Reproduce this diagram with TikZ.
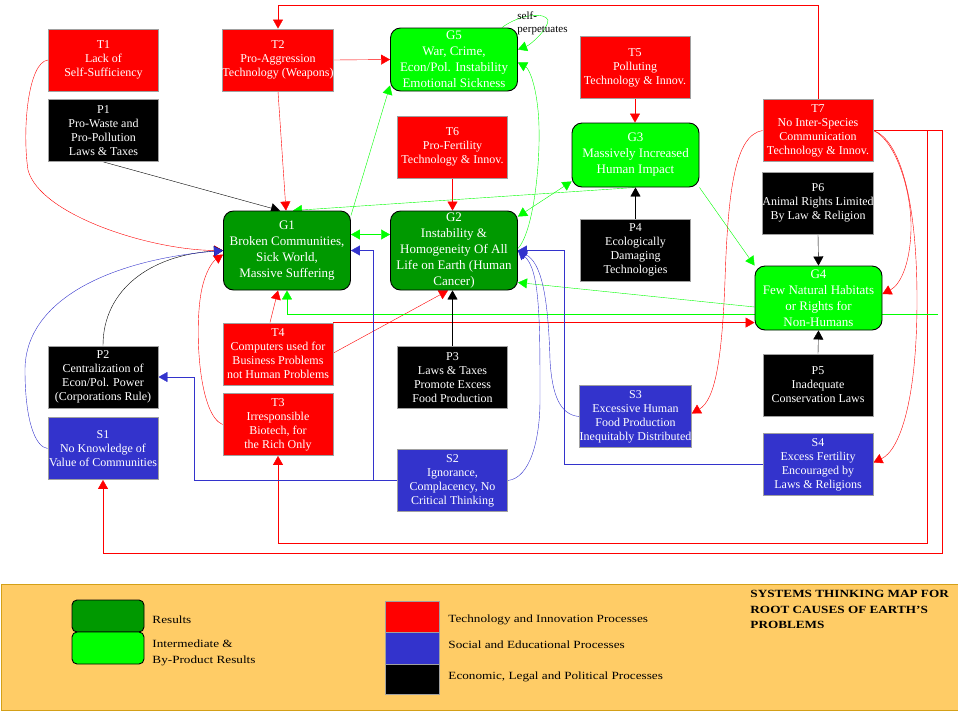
\documentclass[tikz,border=0pt]{standalone}
\usepackage{fontspec}
\setmainfont{Liberation Serif}
\newfontfamily\legendfont[FakeStretch=1.2]{Liberation Serif}
\usetikzlibrary{arrows.meta, backgrounds}
\definecolor{techred}{HTML}{FF0000}
\definecolor{socblue}{HTML}{3333CC}
\definecolor{resdark}{HTML}{009900}
\definecolor{reslight}{HTML}{00FF00}
\definecolor{boxedge}{HTML}{A0A0A0}
\definecolor{legbg}{HTML}{FFCC66}
\definecolor{legedge}{HTML}{D4A017}

\begin{document}
\begin{tikzpicture}[x=1pt, y=-1pt, line width=0.9pt,
  proc/.style={rectangle, draw=boxedge, text=white, minimum width=110pt,
    minimum height=62pt, inner sep=0pt, align=center,
    font=\fontsize{12}{14}\selectfont},
  result/.style={rectangle, rounded corners=10pt, draw=black, text=white,
    minimum width=127pt, inner sep=0pt, align=center,
    font=\fontsize{13}{16}\selectfont},
  link/.style={-{Triangle[length=9pt,width=10pt]}},
  twoway/.style={{Triangle[length=9pt,width=10pt]}-{Triangle[length=9pt,width=10pt]}},
  legtext/.style={anchor=west, inner sep=0pt, align=left,
    font=\legendfont\fontsize{11}{16}\selectfont}
]
  \useasboundingbox (0,0) rectangle (958,713);

  % Technology and innovation processes
  \node[proc, fill=techred] (T1) at (103.5,60) {T1\\Lack of\\Self-Sufficiency};
  \node[proc, fill=techred] (T2) at (278,60) {T2\\Pro-Aggression\\Technology (Weapons)};
  \node[proc, fill=techred] (T5) at (635,67.5) {T5\\Polluting\\Technology \& Innov.};
  \node[proc, fill=techred] (T6) at (452.5,147) {T6\\Pro-Fertility\\Technology \& Innov.};
  \node[proc, fill=techred] (T7) at (818,130.5) {T7\\No Inter-Species\\Communication\\Technology \& Innov.};
  \node[proc, fill=techred] (T4) at (278,354) {T4\\Computers used for\\Business Problems\\not Human Problems};
  \node[proc, fill=techred] (T3) at (278,424.5) {T3\\Irresponsible\\Biotech, for\\the Rich Only};

  % Economic, legal and political processes
  \node[proc, fill=black] (P1) at (103.5,130.5) {P1\\Pro-Waste and\\Pro-Pollution\\Laws \& Taxes};
  \node[proc, fill=black] (P2) at (103,377) {P2\\Centralization of\\Econ/Pol. Power\\(Corporations Rule)};
  \node[proc, fill=black] (P3) at (452.5,377.5) {P3\\Laws \& Taxes\\Promote Excess\\Food Production};
  \node[proc, fill=black] (P4) at (635.5,250) {P4\\Ecologically\\Damaging\\Technologies};
  \node[proc, fill=black] (P5) at (818,385) {P5\\Inadequate\\Conservation Laws};
  \node[proc, fill=black] (P6) at (818,203) {P6\\Animal Rights Limited\\By Law \& Religion};

  % Social and educational processes
  \node[proc, fill=socblue] (S1) at (103,448.5) {S1\\No Knowledge of\\Value of Communities};
  \node[proc, fill=socblue] (S2) at (452.5,480.5) {S2\\Ignorance,\\Complacency, No\\Critical Thinking};
  \node[proc, fill=socblue] (S3) at (635.5,416.5) {S3\\Excessive Human\\Food Production\\Inequitably Distributed};
  \node[proc, fill=socblue] (S4) at (818,464.5) {S4\\Excess Fertility\\Encouraged by\\Laws \& Religions};

  % Results
  \node[result, fill=resdark, minimum height=79pt] (G1) at (287,250.5)
    {G1\\Broken Communities,\\Sick World,\\Massive Suffering};
  \node[result, fill=resdark, minimum height=79pt] (G2) at (454,250.5)
    {G2\\Instability \&\\Homogeneity Of All\\Life on Earth (Human\\Cancer)};
  \node[result, fill=reslight, minimum height=63pt] (G5) at (454,59.5)
    {G5\\War, Crime,\\Econ/Pol. Instability\\Emotional Sickness};
  \node[result, fill=reslight, minimum height=64pt] (G3) at (635.5,155)
    {G3\\Massively Increased\\Human Impact};
  \node[result, fill=reslight, minimum height=64pt] (G4) at (818.5,298)
    {G4\\Few Natural Habitats\\or Rights for\\Non-Humans};

  \node[anchor=west, inner sep=0pt, align=left, font=\fontsize{11}{13}\selectfont]
    (selfnote) at (517,23.5) {self-\\perpetuates};

  \begin{scope}[on background layer]
    % Red links
    \draw[link, techred] (T7.north) -- ++(0,-94) -| (T2.north);
    \draw[link, techred] (T1.west) .. controls (28,62) and (22,130) .. (28,170)
      .. controls (40,215) and (150,250) .. (G1.west);
    \draw[link, techred] (T2.south) -- ([xshift=-1pt]G1.north);
    \draw[link, techred] (T2.east) -- (G5.west);
    \draw[link, techred] (T6.south) -- (T6.south |- G2.north);
    \draw[link, techred] (T5.south) -- (T5.south |- G3.north);
    \draw[link, techred] ([xshift=-8pt]T4.north) -- ([xshift=-9pt]G1.south);
    \draw[link, techred] ([yshift=1pt]T4.east) -- ([xshift=-6pt]G2.south);
    \draw[link, techred] (T4.north east) -- (T4.north east -| G4.west);
    \draw[link, techred] (T3.west) .. controls (200,415) and (195,340) .. (200,300)
      .. controls (203,275) and (212,262) .. ([yshift=-4pt]G1.west);
    \draw[link, techred] (T7.east) -| (927,543) -| (T3.south);
    \draw[link, techred] (T7.east) -| (942,553) -| (S1.south);
    \draw[link, techred] (T7.west) .. controls (735,135) and (728,190) .. (725,280)
      .. controls (722,360) and (715,400) .. ([yshift=3pt]S3.east);
    \draw[link, techred] (T7.east) .. controls (895,140) and (912,190) .. (911,230)
      .. controls (910,265) and (900,285) .. ([yshift=4pt]G4.east);
    \draw[link, techred] (T7.east) .. controls (900,140) and (917,200) .. (917,300)
      .. controls (917,400) and (900,450) .. ([yshift=2pt]S4.east);

    % Green links
    \draw[link, reslight] ([yshift=-5pt]G1.north east) -- ([yshift=6pt]G5.south west);
    \draw[link, reslight] (G3.south) -- ([xshift=6pt]G1.north);
    \draw[twoway, reslight] ([yshift=16pt]G1.east) -- ([yshift=16pt]G2.west);
    \draw[twoway, reslight] ([yshift=-6pt]G2.north east) -- ([yshift=6pt]G3.south west);
    \draw[link, reslight] ([yshift=2pt]G2.east) .. controls (535,230) and (542,150) .. (538,110)
      .. controls (535,80) and (528,68) .. ([yshift=-3pt]G5.east);
    \draw[link, reslight] ([xshift=-16pt]G5.north east) .. controls (520,14) and (545,12) .. (548,20)
      .. controls (548,30) and (530,45) .. ([yshift=10pt]G5.east);
    \draw[link, reslight] (G3.south east) -- (G4.north west);
    \draw[link, reslight] ([yshift=-9pt]G4.west) -- ([yshift=-32pt]G2.east);
    \coordinate (gtail) at (938,314);
    \draw[link, reslight] (gtail) -| (G1.south);

    % Black links
    \draw[link] (P1.south) -- ([xshift=-7pt]G1.north);
    \draw[link] (P2.north) .. controls (103,290) and (150,255) .. (G1.west);
    \draw[link] (P3.north) -- (P3.north |- G2.south);
    \draw[link] (P4.north) -- (G3.south);
    \draw[link] (P6.south) -- (G4.north);
    \draw[link] (P5.north) -- (G4.south);

    % Blue links
    \draw[link, socblue] (S1.west) .. controls (35,447) and (25,420) .. (25,370)
      .. controls (25,300) and (110,260) .. (G1.west);
    \draw[link, socblue] (S2.west) -- (373,480.5) |- (G1.east);
    \draw[link, socblue] (S2.west) -- (194,480.5) |- (P2.east);
    \draw[link, socblue] (S2.east) .. controls (530,478) and (540,440) .. (540,400)
      .. controls (540,320) and (540,270) .. (G2.east);
    \draw[link, socblue] (S3.west) .. controls (560,415) and (552,395) .. (550,360)
      .. controls (548,290) and (540,262) .. (G2.east);
    \draw[link, socblue] (S4.west) -| (564,250.5) -- (G2.east);
  \end{scope}

  % Legend
  \draw[draw=legedge, fill=legbg] (1.5,584) rectangle (962,710);
  \node[draw=black, fill=resdark, rounded corners=5pt, minimum width=72pt,
    minimum height=32pt] (keyres) at (108,616) {};
  \node[draw=black, fill=reslight, rounded corners=5pt, minimum width=72pt,
    minimum height=32pt] (keyint) at (108,648) {};
  \node[draw=boxedge, fill=techred, minimum width=54pt, minimum height=31pt] (keytech) at (412,616.5) {};
  \node[draw=boxedge, fill=socblue, minimum width=54pt, minimum height=32pt] (keysoc) at (412,648) {};
  \node[draw=boxedge, fill=black, minimum width=54pt, minimum height=30pt] (keyecon) at (412,679) {};
  \node[legtext] (txtres) at (152,620) {Results};
  \node[legtext] (txtint) at (152,653) {Intermediate \&\\By-Product Results};
  \node[legtext] (txttech) at (448,620) {Technology and Innovation Processes};
  \node[legtext] (txtsoc) at (448,645) {Social and Educational Processes};
  \node[legtext] (txtecon) at (448,677) {Economic, Legal and Political Processes};
  \node[anchor=north west, inner sep=0pt, align=left,
    font=\legendfont\bfseries\fontsize{11}{15.5}\selectfont]
    (maptitle) at (750,590) {SYSTEMS THINKING MAP FOR\\ROOT CAUSES OF EARTH’S\\PROBLEMS};
\end{tikzpicture}
\end{document}
